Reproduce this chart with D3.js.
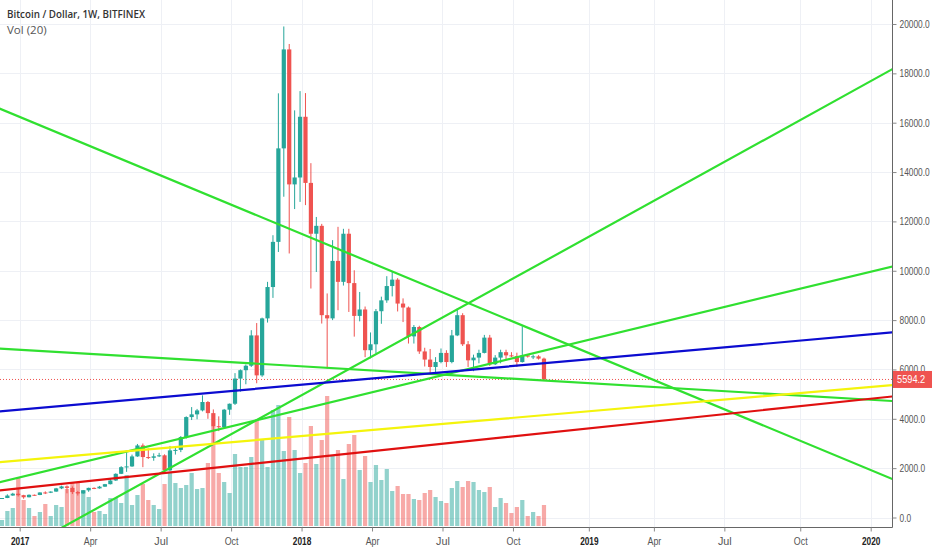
<!DOCTYPE html>
<html>
<head>
<meta charset="utf-8">
<script src="https://cdn.jsdelivr.net/npm/d3@7"></script>
<style>
  html, body { margin: 0; padding: 0; background: #fff; }
  svg { display: block; font-family: "Open Sans", "Noto Sans", sans-serif; }
</style>
</head>
<body>
<svg id="chart" width="932" height="550"></svg>
<script>
// ---------- DATA ----------
const weeks = [
  "2016-12-12","2016-12-19","2016-12-26",
  "2017-01-02","2017-01-09","2017-01-16","2017-01-23","2017-01-30","2017-02-06","2017-02-13","2017-02-20","2017-02-27",
  "2017-03-06","2017-03-13","2017-03-20","2017-03-27","2017-04-03","2017-04-10","2017-04-17","2017-04-24","2017-05-01",
  "2017-05-08","2017-05-15","2017-05-22","2017-05-29","2017-06-05","2017-06-12","2017-06-19","2017-06-26","2017-07-03",
  "2017-07-10","2017-07-17","2017-07-24","2017-07-31","2017-08-07","2017-08-14","2017-08-21","2017-08-28","2017-09-04",
  "2017-09-11","2017-09-18","2017-09-25","2017-10-02","2017-10-09","2017-10-16","2017-10-23","2017-10-30","2017-11-06",
  "2017-11-13","2017-11-20","2017-11-27","2017-12-04","2017-12-11","2017-12-18","2017-12-25",
  "2018-01-01","2018-01-08","2018-01-15","2018-01-22","2018-01-29","2018-02-05","2018-02-12","2018-02-19","2018-02-26",
  "2018-03-05","2018-03-12","2018-03-19","2018-03-26","2018-04-02","2018-04-09","2018-04-16","2018-04-23","2018-04-30",
  "2018-05-07","2018-05-14","2018-05-21","2018-05-28","2018-06-04","2018-06-11","2018-06-18","2018-06-25","2018-07-02",
  "2018-07-09","2018-07-16","2018-07-23","2018-07-30","2018-08-06","2018-08-13","2018-08-20","2018-08-27","2018-09-03",
  "2018-09-10","2018-09-17","2018-09-24","2018-10-01","2018-10-08","2018-10-15","2018-10-22","2018-10-29","2018-11-05",
  "2018-11-12"
];
const open = [
  770,790,890,
  965,905,820,920,912,1015,1005,1050,1180,
  1260,1200,1030,975,1100,1200,1180,1250,1350,
  1500,1770,2040,2070,2475,2920,2450,2420,2480,
  2520,1910,2720,2740,3260,4070,4180,4340,4680,
  4230,3700,3660,4370,4610,5630,5970,6150,7380,
  5760,8070,9340,11170,14960,18970,13500,
  13780,16240,13560,11500,11820,8200,8070,10400,9550,
  11500,9500,8170,8430,6780,7020,8360,8800,9380,
  9640,8670,8510,7340,7720,6730,6400,6100,6300,
  6670,6300,7380,8200,7020,6370,6480,6670,7290,
  6210,6480,6700,6570,6540,6300,6570,6520,6530,
  6440
];
const high = [
  790,940,1000,
  1150,920,935,930,1020,1060,1060,1200,1290,
  1300,1260,1080,1100,1210,1220,1280,1360,1560,
  1790,2080,2700,2550,2980,3000,2800,2600,2620,
  2560,2900,2820,3300,4100,4475,4400,4950,4720,
  4380,4100,4400,4620,5850,6000,6200,7590,7880,
  8100,9550,11440,17190,19900,19190,16500,
  17280,17200,14360,12180,11900,9080,11240,11780,11700,
  11700,10020,9140,8550,7500,8450,8950,9780,9950,
  9700,8880,8550,7800,7770,6880,6830,6500,6850,
  6780,7600,8470,8280,7150,6600,6800,7400,7400,
  6580,6800,6800,6700,6680,7750,6600,6600,6580,
  6480
];
const low = [
  755,785,880,
  850,760,815,880,905,950,990,1040,1150,
  980,950,890,960,1040,1150,1170,1240,1340,
  1480,1760,1850,2050,2460,2040,2370,2300,2450,
  1840,1880,2550,2650,3200,3950,3980,4300,4000,
  2950,3500,3640,4160,4560,5100,5400,6100,5440,
  5700,7900,8900,10760,13000,10700,12500,
  12790,12660,9280,9950,7860,6030,8000,8400,9400,
  8330,7330,7950,6500,6450,6650,7850,8700,8960,
  8350,7920,7050,7050,6630,6120,5850,5800,6250,
  6100,6250,7350,6950,6100,5930,6250,6650,6140,
  6180,6250,6400,6500,6100,6280,6480,6420,6400,
  5560
];
const close = [
  790,890,965,
  905,820,920,912,1015,1005,1050,1180,1260,
  1200,1030,975,1100,1200,1180,1250,1350,1500,
  1770,2040,2070,2475,2920,2450,2420,2480,2520,
  1910,2720,2740,3260,4070,4180,4340,4680,4230,
  3700,3660,4370,4610,5630,5970,6150,7380,5760,
  8070,9340,11170,14960,18970,13500,13780,
  16240,13560,11500,11820,8200,8070,10400,9550,11500,
  9500,8170,8430,6780,7020,8360,8800,9380,9640,
  8670,8510,7340,7720,6730,6400,6100,6300,6670,
  6300,7380,8200,7020,6370,6480,6670,7290,6210,
  6480,6700,6570,6540,6300,6570,6520,6530,6440,
  5594.2
];
// weekly volume (thousand BTC, estimated)
const volume = [
  6,15,18,
  48,26,18,10,14,22,10,21,19,
  37,44,43,36,29,14,15,12,28,
  28,23,51,21,31,42,26,21,17,
  42,54,43,38,41,53,37,38,63,
  100,53,44,33,72,59,59,69,105,
  86,59,116,121,75,109,76,
  53,63,100,62,86,130,70,76,47,
  82,91,56,70,44,61,46,57,35,
  40,32,32,27,26,33,36,29,25,
  23,38,45,39,45,44,36,34,39,
  19,28,23,13,19,26,10,14,10,
  21
];

// drawn trend lines: start date / price, end date / price
const trendStart = ["2016-12-05","2016-12-05","2016-12-05","2016-12-05","2016-12-05","2016-12-05","2016-12-05"];
const trendEnd   = ["2020-02-03","2020-02-03","2020-02-03","2020-02-03","2020-02-03","2020-02-03","2020-02-03"];
const trendStartPrice = [16600, -1840, 1410, 6850, 4290, 2235, 1090];
const trendEndPrice   = [1560, 18170, 10175, 4720, 7500, 5370, 4905];
const trendColor = ["#30e030","#30e030","#30e030","#30e030","#0c0cd0","#f4f40c","#e01010"];

const tickDates  = ["2017-01-02","2017-04-03","2017-07-03","2017-10-02","2018-01-01","2018-04-02","2018-07-02","2018-10-01","2019-01-07","2019-04-01","2019-07-01","2019-10-07","2020-01-06"];
const tickLabels = ["2017","Apr","Jul","Oct","2018","Apr","Jul","Oct","2019","Apr","Jul","Oct","2020"];
const priceTicks = [0,2000,4000,6000,8000,10000,12000,14000,16000,18000,20000];
const lastPrice = 5594.2;

const titleText = "Bitcoin / Dollar, 1W, BITFINEX";
const volText = "Vol (20)";

// ---------- LAYOUT ----------
const W = 932, H = 550;
const plotRight = 892, plotBottom = 527.5;
const UP = "#26a69a", DOWN = "#ef5350";
const UPV = "rgba(38,166,154,0.5)", DOWNV = "rgba(239,83,80,0.5)";
const fmt = d3.format(".1f");
const AXFONT = "'Liberation Sans', Arial, sans-serif";

const parse = d3.utcParse("%Y-%m-%d");
const x = d3.scaleUtc().domain([parse("2017-01-02"), parse("2020-01-06")]).range([19.7, 870.7]);
const y = d3.scaleLinear().domain([0, 20000]).range([517.5, 24]);
const yv = d3.scaleLinear().domain([0, 130]).range([526, 396]);

const svg = d3.select("#chart");
svg.append("rect").attr("width", W).attr("height", H).attr("fill", "#fff");

const defs = svg.append("defs");
defs.append("clipPath").attr("id", "plotclip").append("rect")
  .attr("x", 0).attr("y", 0).attr("width", plotRight).attr("height", plotBottom);

// grid
const grid = svg.append("g").attr("clip-path", "url(#plotclip)");
grid.selectAll("line.h").data(priceTicks).join("line")
  .attr("x1", 0).attr("x2", plotRight)
  .attr("y1", d => Math.round(y(d)) + 0.5).attr("y2", d => Math.round(y(d)) + 0.5)
  .attr("stroke", "#eef0f5").attr("stroke-width", 1);
grid.selectAll("line.v").data(tickDates).join("line")
  .attr("x1", d => Math.round(x(parse(d))) + 0.5).attr("x2", d => Math.round(x(parse(d))) + 0.5)
  .attr("y1", 0).attr("y2", plotBottom)
  .attr("stroke", "#eef0f5").attr("stroke-width", 1);

const bw = 4.2;
const rows = weeks.map((w, i) => ({
  t: parse(w), o: open[i], h: high[i], l: low[i], c: close[i], v: volume[i]
}));

// volume
const plot = svg.append("g").attr("clip-path", "url(#plotclip)");
plot.append("g").selectAll("rect").data(rows).join("rect")
  .attr("x", d => x(d.t) - 1.5 - bw / 2)
  .attr("width", bw)
  .attr("y", d => yv(d.v))
  .attr("height", d => yv(0) - yv(d.v))
  .attr("fill", d => d.c >= d.o ? UPV : DOWNV);

// last price dotted line
plot.append("line")
  .attr("x1", 0).attr("x2", plotRight)
  .attr("y1", y(lastPrice)).attr("y2", y(lastPrice))
  .attr("stroke", DOWN).attr("stroke-width", 1).attr("stroke-dasharray", "1,2");

// candles
const cg = plot.append("g");
cg.selectAll("line").data(rows).join("line")
  .attr("x1", d => x(d.t) - 1.5).attr("x2", d => x(d.t) - 1.5)
  .attr("y1", d => y(d.h)).attr("y2", d => y(d.l))
  .attr("stroke", d => d.c >= d.o ? UP : DOWN).attr("stroke-width", 1);
cg.selectAll("rect").data(rows).join("rect")
  .attr("x", d => x(d.t) - 1.5 - bw / 2)
  .attr("width", bw)
  .attr("y", d => y(Math.max(d.o, d.c)))
  .attr("height", d => Math.max(1, Math.abs(y(d.o) - y(d.c))))
  .attr("fill", d => d.c >= d.o ? UP : DOWN);

// trend lines
const tl = plot.append("g");
tl.selectAll("line").data(trendColor).join("line")
  .attr("x1", (d, i) => x(parse(trendStart[i])))
  .attr("y1", (d, i) => y(trendStartPrice[i]))
  .attr("x2", (d, i) => x(parse(trendEnd[i])))
  .attr("y2", (d, i) => y(trendEndPrice[i]))
  .attr("stroke", d => d).attr("stroke-width", 2.2).attr("stroke-linecap", "round");

// right price axis (labels horizontally condensed like the reference)
const yAxis = d3.axisRight(y).tickValues(priceTicks).tickFormat(fmt).tickSize(4).tickPadding(3);
const ya = svg.append("g").attr("transform", `translate(${plotRight + 0.5},0)`).call(yAxis);
ya.select(".domain").attr("d", `M0,0V${plotBottom}`).attr("stroke", "#666");
ya.selectAll(".tick line").attr("stroke", "#888");
ya.selectAll(".tick text")
  .attr("fill", "#555").attr("font-size", 11).attr("font-family", AXFONT)
  .attr("x", 0)
  .attr("transform", "translate(7,0) scale(0.76,1)");

// last price label
const ly = y(lastPrice);
svg.append("rect").attr("x", plotRight + 1).attr("y", ly - 8.5).attr("width", W - plotRight - 1).attr("height", 17).attr("fill", DOWN);
svg.append("text")
  .attr("transform", `translate(${plotRight + 5},${ly + 4}) scale(0.84,1)`)
  .attr("fill", "#fff").attr("font-size", 11).attr("font-family", AXFONT)
  .text(fmt(lastPrice));

// bottom time axis
const xAxis = d3.axisBottom(x).tickValues(tickDates.map(parse)).tickFormat((d, i) => tickLabels[i]).tickSize(4).tickPadding(6);
const xa = svg.append("g").attr("transform", `translate(0,${plotBottom})`).call(xAxis);
xa.select(".domain").attr("d", `M0,0H${plotRight + 0.5}`).attr("stroke", "#666");
xa.selectAll(".tick line").attr("stroke", "#888");
xa.selectAll(".tick text")
  .attr("font-size", 11)
  .attr("fill", (d, i) => /^\d{4}$/.test(tickLabels[i]) ? "#222" : "#555")
  .attr("font-weight", (d, i) => /^\d{4}$/.test(tickLabels[i]) ? 700 : 400)
  .attr("textLength", (d, i) => tickLabels[i].length * 4.6)
  .attr("lengthAdjust", "spacingAndGlyphs");

// title
svg.append("text").attr("x", 7).attr("y", 18).attr("font-size", 11.5).attr("font-weight", 600)
  .attr("fill", "#333").attr("textLength", 138).attr("lengthAdjust", "spacingAndGlyphs").text(titleText);
svg.append("text").attr("x", 7).attr("y", 34).attr("font-size", 11.5)
  .attr("fill", "#555").text(volText);
</script>
</body>
</html>
